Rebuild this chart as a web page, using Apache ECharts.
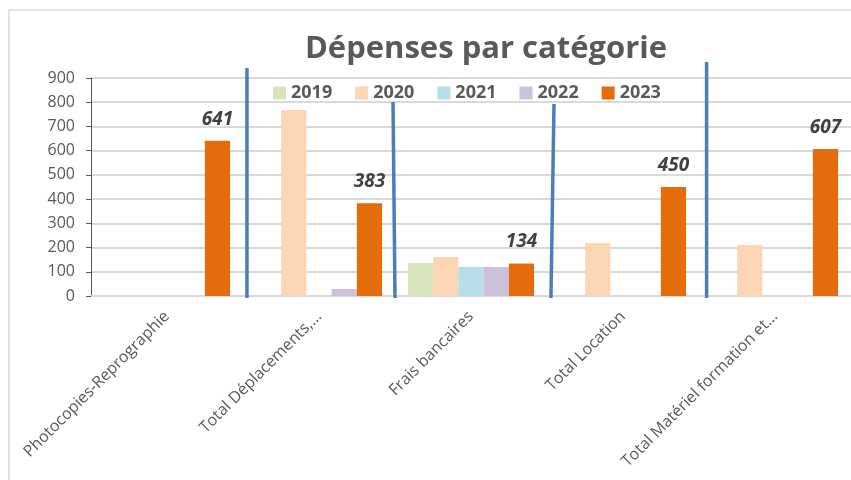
<!DOCTYPE html>
<html>
<head>
<meta charset="utf-8">
<script src="https://cdn.jsdelivr.net/npm/echarts@6/dist/echarts.min.js"></script>
<style>
    html, body { margin: 0; padding: 0; background: #fff; }
    #main { width: 851px; height: 480px; }
</style>
</head>
<body>
<div id="main"></div>
<script>
// catégories (libellés tronqués comme dans l'original)
var categories = ['Photocopies-Reprographie', 'Total Déplacements,…', 'Frais bancaires', 'Total Location', 'Total Matériel formation et…'];
var years = ['2019', '2020', '2021', '2022', '2023'];

// valeurs par année
var values2019 = [0, 0, 136, 0, 0];
var values2020 = [0, 768, 161, 219, 211];
var values2021 = [0, 0, 120, 0, 0];
var values2022 = [0, 29, 120, 0, 0];
var values2023 = [641, 383, 134, 450, 607];

var colors = ['#d8e4bc', '#fcd5b4', '#b7dde8', '#ccc0da', '#e46c0a'];

// traits bleus tracés à la main : [x bas, x haut, y haut]
var dividers = [
    [1.026, 1.026, 941],
    [2.0, 1.987, 801],
    [3.026, 3.046, 793],
    [4.05, 4.05, 966]
];

var chart = echarts.init(document.getElementById('main'));

var allValues = [values2019, values2020, values2021, values2022, values2023];
var series = [];
for (let i = 0; i < years.length; i++) {
    series.push({
        name: years[i],
        type: 'bar',
        barGap: '0%',
        barCategoryGap: '17%',
        itemStyle: { color: colors[i] },
        label: {
            show: i === 4, // étiquettes seulement pour 2023
            position: 'top',
            distance: 12,
            fontFamily: 'Open Sans',
            fontWeight: 'bold',
            fontStyle: 'italic',
            fontSize: 19,
            color: '#404040'
        },
        data: allValues[i].map(function (v) { return v === 0 ? null : v; })
    });
}
for (let d of dividers) {
    series.push({
        type: 'line',
        xAxisIndex: 1,
        symbol: 'none',
        silent: true,
        clip: false,
        lineStyle: { color: '#4a7ebb', width: 3.5 },
        data: [[d[0], -8], [d[1], d[2]]]
    });
}

var option = {
    animation: false,
    title: {
        text: 'Dépenses par catégorie',
        left: 481,
        textAlign: 'center',
        top: 29,
        textStyle: { fontFamily: 'Open Sans', fontWeight: 'bold', fontSize: 31, color: '#595959' }
    },
    legend: {
        data: years,
        top: 79,
        left: 268,
        itemWidth: 13,
        itemHeight: 13,
        itemGap: 23,
        icon: 'rect',
        textStyle: { fontFamily: 'Open Sans', fontWeight: 'bold', fontSize: 18, color: '#595959' }
    },
    grid: { left: 91, right: 0, top: 78, bottom: 184 },
    xAxis: [{
        type: 'category',
        data: categories,
        axisTick: { show: false },
        axisLine: { lineStyle: { color: '#d9d9d9', width: 2 } },
        axisLabel: { rotate: 45, margin: 18, fontFamily: 'Open Sans', fontSize: 16, color: '#595959', interval: 0 }
    }, {
        type: 'value',
        min: 0,
        max: 5,
        show: false
    }],
    yAxis: {
        type: 'value',
        min: 0,
        max: 900,
        interval: 100,
        axisLabel: { fontFamily: 'Open Sans', fontSize: 16, color: '#595959', margin: 16 },
        splitLine: { lineStyle: { color: '#d9d9d9', width: 2 } }
    },
    graphic: [{
        type: 'rect',
        shape: { x: 9, y: 10, width: 900, height: 480 },
        style: { fill: null, stroke: '#d9d9d9', lineWidth: 1.5 },
        silent: true
    }],
    series: series
};

chart.setOption(option);
</script>
</body>
</html>
